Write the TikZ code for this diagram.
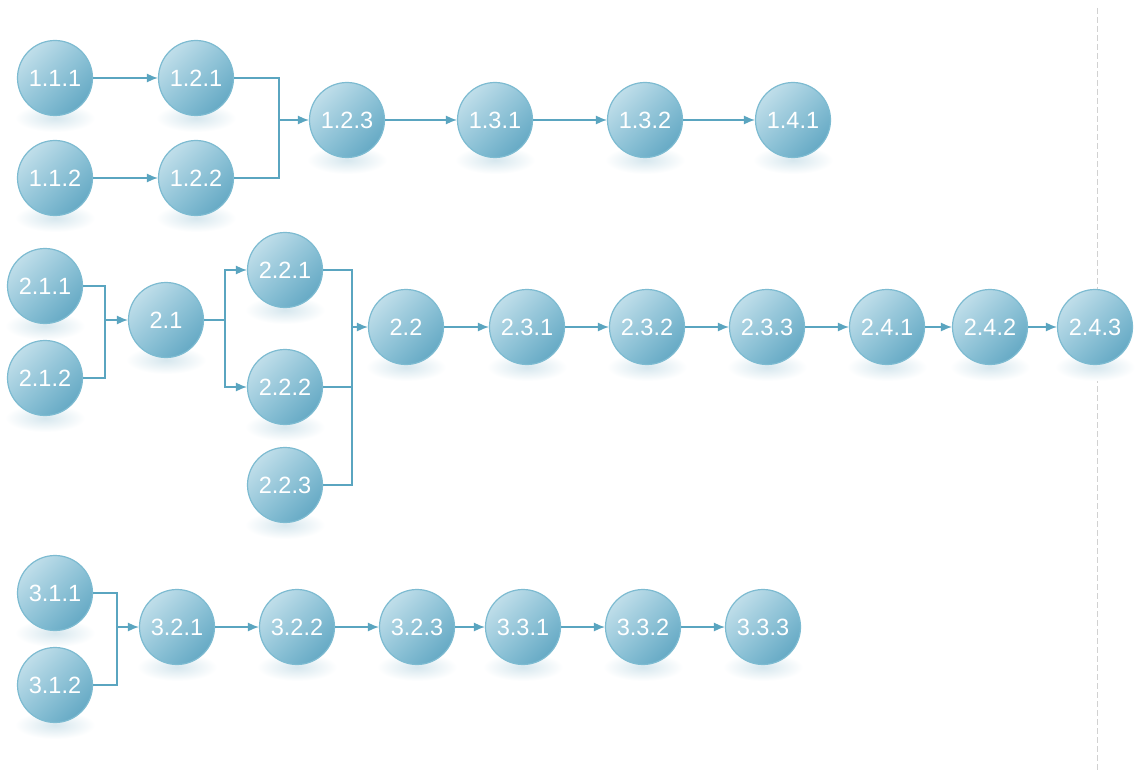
\documentclass[tikz,border=0pt]{standalone}
\usepackage{fontspec}
\setmainfont{Liberation Sans}
\usetikzlibrary{arrows.meta,shadings}
\definecolor{linec}{HTML}{5AA5C0}
\definecolor{ringc}{HTML}{7DBBD1}
\definecolor{hiC}{HTML}{D4E9F1}
\definecolor{midC}{HTML}{8FC4D8}
\definecolor{loC}{HTML}{559FBD}
\definecolor{shC}{HTML}{D6E7EE}
\tikzset{
  nd/.style={circle, minimum size=75pt, inner sep=0pt, draw=ringc, line width=1.2pt,
    upper left=hiC, upper right=midC, lower left=midC, lower right=loC,
    text=white, font=\fontsize{23.5}{25}\selectfont},
  conn/.style={draw=linec, line width=1.3pt},
  arr/.style={conn, -{Latex[length=11pt,width=9pt]}},
  shad/.style={inner color=shC, outer color=white, draw=none}
}
\begin{document}
\begin{tikzpicture}[x=1pt,y=-1pt]
\useasboundingbox (0,0) rectangle (1139,770);
\fill[white] (0,0) rectangle (1139,770);
\draw[black!18, line width=1pt, dash pattern=on 6pt off 3pt] (1097,8) -- (1097,770);
% shadows first
\foreach \x/\y in {55/78,196/78,55/178,196/178,347/120,495/120,645/120,793/120,
  45/286,45/378,166/320,285/270,285/387,285/485,406/327,527/327,647/327,767/327,887/327,990/327,1095/327,
  55/593,55/685,177/627,297/627,417/627,523/627,643/627,763/627}
  \shade[shad] (\x,\y+40) ellipse [x radius=40pt, y radius=14pt];
% row 1
\node[nd] (n111) at (55,78) {1.1.1};
\node[nd] (n121) at (196,78) {1.2.1};
\node[nd] (n112) at (55,178) {1.1.2};
\node[nd] (n122) at (196,178) {1.2.2};
\node[nd] (n123) at (347,120) {1.2.3};
\node[nd] (n131) at (495,120) {1.3.1};
\node[nd] (n132) at (645,120) {1.3.2};
\node[nd] (n141) at (793,120) {1.4.1};
% row 2
\node[nd] (n211) at (45,286) {2.1.1};
\node[nd] (n212) at (45,378) {2.1.2};
\node[nd] (n21) at (166,320) {2.1};
\node[nd] (n221) at (285,270) {2.2.1};
\node[nd] (n222) at (285,387) {2.2.2};
\node[nd] (n223) at (285,485) {2.2.3};
\node[nd] (n22) at (406,327) {2.2};
\node[nd] (n231) at (527,327) {2.3.1};
\node[nd] (n232) at (647,327) {2.3.2};
\node[nd] (n233) at (767,327) {2.3.3};
\node[nd] (n241) at (887,327) {2.4.1};
\node[nd] (n242) at (990,327) {2.4.2};
\node[nd] (n243) at (1095,327) {2.4.3};
% row 3
\node[nd] (n311) at (55,593) {3.1.1};
\node[nd] (n312) at (55,685) {3.1.2};
\node[nd] (n321) at (177,627) {3.2.1};
\node[nd] (n322) at (297,627) {3.2.2};
\node[nd] (n323) at (417,627) {3.2.3};
\node[nd] (n331) at (523,627) {3.3.1};
\node[nd] (n332) at (643,627) {3.3.2};
\node[nd] (n333) at (763,627) {3.3.3};
% junction coordinates
\coordinate (m1) at (279,120);
\coordinate (m2) at (105,320);
\coordinate (s2) at (225,320);
\coordinate (m3) at (352,327);
\coordinate (m4) at (117,627);
% row 1 connectors
\draw[arr] (n111) -- (n121);
\draw[arr] (n112) -- (n122);
\draw[conn] (n121.east) -| (m1);
\draw[conn] (n122.east) -| (m1);
\draw[arr] (m1) -- (n123);
\draw[arr] (n123) -- (n131);
\draw[arr] (n131) -- (n132);
\draw[arr] (n132) -- (n141);
% row 2 connectors
\draw[conn] (n211.east) -| (m2);
\draw[conn] (n212.east) -| (m2);
\draw[arr] (m2) -- (n21);
\draw[conn] (n21) -- (s2);
\draw[arr] (s2) |- (n221.west);
\draw[arr] (s2) |- (n222.west);
\draw[conn] (n221.east) -| (m3);
\draw[conn] (n222.east) -| (m3);
\draw[conn] (n223.east) -| (m3);
\draw[arr] (m3) -- (n22);
\draw[arr] (n22) -- (n231);
\draw[arr] (n231) -- (n232);
\draw[arr] (n232) -- (n233);
\draw[arr] (n233) -- (n241);
\draw[arr] (n241) -- (n242);
\draw[arr] (n242) -- (n243);
% row 3 connectors
\draw[conn] (n311.east) -| (m4);
\draw[conn] (n312.east) -| (m4);
\draw[arr] (m4) -- (n321);
\draw[arr] (n321) -- (n322);
\draw[arr] (n322) -- (n323);
\draw[arr] (n323) -- (n331);
\draw[arr] (n331) -- (n332);
\draw[arr] (n332) -- (n333);
\end{tikzpicture}
\end{document}
